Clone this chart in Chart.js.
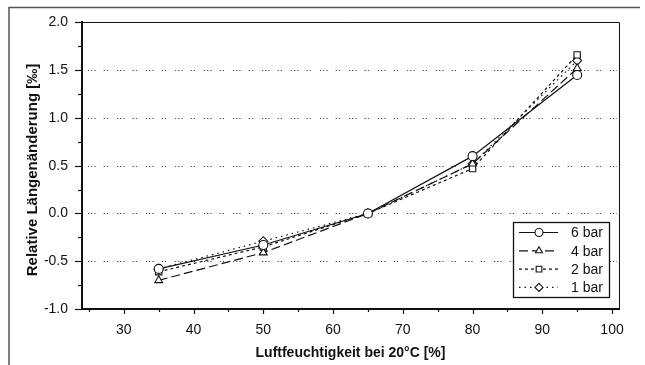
<!DOCTYPE html>
<html>
<head>
<meta charset="utf-8">
<script src="https://cdn.jsdelivr.net/npm/chart.js@4/dist/chart.umd.min.js"></script>
<style>
html,body{margin:0;padding:0;background:#fff;}
#wrap{width:645px;height:365px;}
</style>
</head>
<body>
<div id="wrap"><canvas id="c" width="645" height="365"></canvas></div>
<script>
const humidity = [35, 50, 65, 80, 95];
const bar6 = [-0.58, -0.33, 0.00, 0.60, 1.45];
const bar4 = [-0.70, -0.41, 0.00, 0.52, 1.52];
const bar2 = [-0.61, -0.35, 0.00, 0.47, 1.66];
const bar1 = [-0.58, -0.29, 0.00, 0.52, 1.60];
const seriesLabels = ['6 bar', '4 bar', '2 bar', '1 bar'];
const xTicks = [30, 40, 50, 60, 70, 80, 90, 100];
const yTicks = [-1.0, -0.5, 0.0, 0.5, 1.0, 1.5, 2.0];
const xTitle = 'Luftfeuchtigkeit bei 20°C [%]';
const yTitle = 'Relative Längenänderung [‰]';

const FONT = "'Liberation Sans', Arial, sans-serif";
const INK = '#111';

function pts(vals){ return humidity.map((h,i)=>({x:h, y:vals[i]})); }

const styles = [
  {dash: [], ps: 'circle'},
  {dash: [9, 4], ps: 'triangle'},
  {dash: [3, 3], ps: 'rect'},
  {dash: [1.5, 4], ps: 'rectRot'}
];
const allVals = [bar6, bar4, bar2, bar1];

const datasets = allVals.map((v, i) => ({
  label: seriesLabels[i],
  data: pts(v),
  borderColor: INK,
  borderWidth: 1.2,
  borderDash: styles[i].dash,
  pointStyle: styles[i].ps,
  pointRadius: 4.5,
  pointBackgroundColor: '#fff',
  pointBorderColor: INK,
  pointBorderWidth: 1.1,
  fill: false,
  tension: 0
}));

const deco = {
  id: 'deco',
  beforeDraw(chart){
    const ctx = chart.ctx;
    ctx.save();
    ctx.fillStyle = '#fff';
    ctx.fillRect(0,0,chart.width,chart.height);
    ctx.strokeStyle = '#555';
    ctx.lineWidth = 1.5;
    ctx.beginPath();
    ctx.moveTo(9, 366); ctx.lineTo(9, 7.5); ctx.lineTo(640, 7.5);
    ctx.stroke();
    ctx.restore();
  },
  beforeDatasetsDraw(chart){
    const ctx = chart.ctx, ca = chart.chartArea;
    const ys = chart.scales.y, xs = chart.scales.x;
    ctx.save();
    // dotted grid
    ctx.strokeStyle = '#444';
    ctx.lineWidth = 1;
    ctx.setLineDash([1.2, 2, 1.2, 2, 1.2, 8, 1.2, 2, 1.2, 9]);
    yTicks.forEach(v => {
      if (v === ys.min || v === ys.max) return;
      const y = Math.round(ys.getPixelForValue(v)) + 0.5;
      ctx.beginPath(); ctx.moveTo(ca.left + 6, y); ctx.lineTo(ca.right - 2, y); ctx.stroke();
    });
    ctx.setLineDash([]);
    // top/right frame
    ctx.strokeStyle = INK;
    ctx.lineWidth = 1;
    ctx.beginPath();
    ctx.moveTo(ca.left, Math.round(ca.top)+0.5);
    ctx.lineTo(Math.round(ca.right)+0.5, Math.round(ca.top)+0.5);
    ctx.lineTo(Math.round(ca.right)+0.5, ca.bottom);
    ctx.stroke();
    // y ticks
    ctx.lineWidth = 1.2;
    for (let i = 0; i < yTicks.length; i++) {
      const y = Math.round(ys.getPixelForValue(yTicks[i])) + 0.5;
      ctx.beginPath(); ctx.moveTo(ca.left - 7, y); ctx.lineTo(ca.left, y); ctx.stroke();
      if (i < yTicks.length - 1) {
        const m = (yTicks[i] + yTicks[i+1]) / 2;
        const ym = Math.round(ys.getPixelForValue(m)) + 0.5;
        ctx.beginPath(); ctx.moveTo(ca.left - 4, ym); ctx.lineTo(ca.left, ym); ctx.stroke();
      }
    }
    // x ticks
    const step = xTicks[1] - xTicks[0];
    const minors = [xTicks[0] - step/2].concat(xTicks.slice(0,-1).map((v,i)=>(v + xTicks[i+1])/2));
    xTicks.forEach(v => {
      const x = Math.round(xs.getPixelForValue(v)) + 0.5;
      ctx.beginPath(); ctx.moveTo(x, ca.bottom); ctx.lineTo(x, ca.bottom + 5); ctx.stroke();
    });
    minors.forEach(v => {
      const x = Math.round(xs.getPixelForValue(v)) + 0.5;
      ctx.beginPath(); ctx.moveTo(x, ca.bottom); ctx.lineTo(x, ca.bottom + 3); ctx.stroke();
    });
    ctx.restore();
  },
  afterDatasetsDraw(chart){
    const ctx = chart.ctx;
    // y axis title
    ctx.save();
    ctx.translate(33, 170);
    ctx.rotate(-Math.PI/2);
    ctx.fillStyle = INK;
    ctx.font = 'bold 15px ' + FONT;
    ctx.textAlign = 'center';
    ctx.textBaseline = 'middle';
    ctx.fillText(yTitle, 0, 0);
    ctx.restore();
    // legend box
    const bx = 513, by = 222, bw = 96, bh = 75;
    ctx.save();
    ctx.fillStyle = '#fff';
    ctx.fillRect(bx, by, bw, bh);
    ctx.strokeStyle = INK;
    ctx.lineWidth = 1.3;
    ctx.strokeRect(bx + 0.5, by + 0.5, bw, bh);
    chart.data.datasets.forEach((ds, i) => {
      const y = by + 10.5 + i * 18.3;
      ctx.strokeStyle = INK;
      ctx.lineWidth = 1.2;
      ctx.setLineDash(ds.borderDash || []);
      ctx.beginPath(); ctx.moveTo(bx + 6, y); ctx.lineTo(bx + 45, y); ctx.stroke();
      ctx.setLineDash([]);
      ctx.fillStyle = '#fff';
      ctx.lineWidth = 1.1;
      Chart.helpers.drawPoint(ctx, {pointStyle: ds.pointStyle, radius: 4, borderWidth: 1.1, rotation: 0}, bx + 26, y);
      ctx.fillStyle = INK;
      ctx.font = '14px ' + FONT;
      ctx.textBaseline = 'middle';
      ctx.textAlign = 'left';
      ctx.fillText(ds.label, bx + 58, y + 1);
    });
    ctx.restore();
  }
};

new Chart(document.getElementById('c'), {
  type: 'line',
  data: { datasets },
  plugins: [deco],
  options: {
    responsive: false,
    animation: false,
    devicePixelRatio: 1,
    layout: { padding: { top: 15, right: 26, left: 0, bottom: 0 } },
    plugins: { legend: { display: false }, tooltip: { enabled: false } },
    scales: {
      x: {
        type: 'linear',
        min: 24, max: 101,
        afterBuildTicks(s){ s.ticks = xTicks.map(v => ({value: v})); },
        afterFit(s){ s.height = 56; },
        grid: { display: false, drawTicks: false },
        border: { display: true, color: INK, width: 2 },
        ticks: { color: INK, font: { family: FONT, size: 14 }, padding: 13, maxRotation: 0 },
        title: { display: true, text: xTitle, color: INK, font: { family: FONT, size: 14, weight: 'bold' }, padding: { top: 3, bottom: 3 } }
      },
      y: {
        min: -1, max: 2,
        afterBuildTicks(s){ s.ticks = yTicks.map(v => ({value: v})); },
        afterFit(s){ s.width = 82; },
        grid: { display: false, drawTicks: false },
        border: { display: true, color: INK, width: 2 },
        ticks: { color: INK, font: { family: FONT, size: 14 }, padding: 14, callback: v => Number(v).toFixed(1) },
        title: { display: false }
      }
    }
  }
});
</script>
</body>
</html>
